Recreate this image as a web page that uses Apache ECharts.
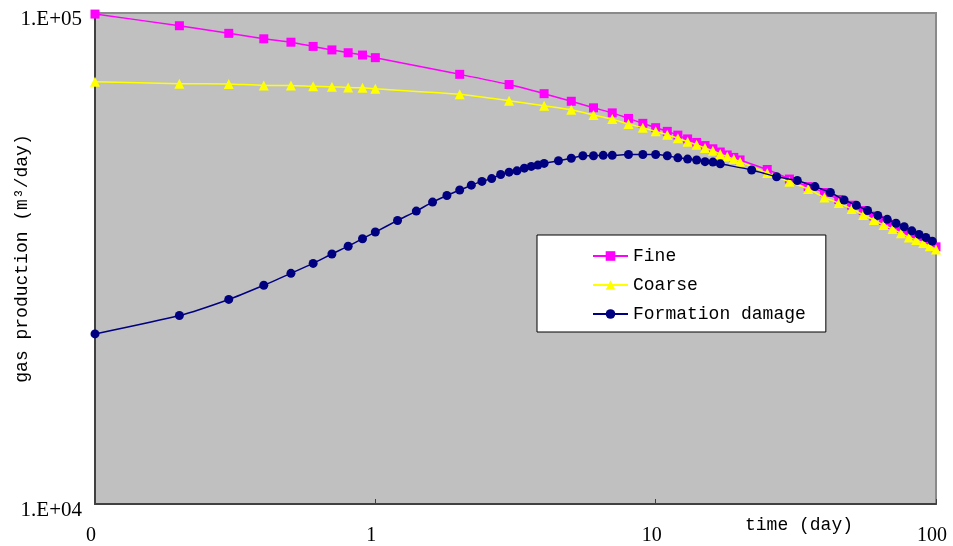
<!DOCTYPE html>
<html>
<head>
<meta charset="utf-8">
<script src="https://cdn.jsdelivr.net/npm/echarts@6/dist/echarts.min.js"></script>
<style>
  html, body { margin: 0; padding: 0; background: #ffffff; }
  #chart { width: 953px; height: 546px; }
</style>
</head>
<body>
<div id="chart"></div>
<script>
// Time samples (day) and gas production (m3/day) for each case
const fineTime = [0.1, 0.2, 0.3, 0.4, 0.5, 0.6, 0.7, 0.8, 0.9, 1,
  2, 3, 4, 5, 6, 7, 8, 9, 10,
  11, 12, 13, 14, 15, 16, 17, 18, 19, 20,
  25, 30, 35, 40, 45, 50, 55, 60, 65, 70, 75, 80, 85, 90, 95, 100];
const fineGas = [99500, 94200, 90900, 88600, 87200, 85500, 84100, 83000, 82100, 81100,
  75000, 71500, 68500, 66100, 64100, 62600, 61000, 59600, 58400,
  57400, 56400, 55400, 54500, 53700, 52900, 52100, 51400, 50800, 50200,
  48000, 45900, 44300, 43100, 41700, 40600, 39600, 38600, 37800, 37100, 36400, 35800, 35200, 34700, 34200, 33400];

const coarseTime = fineTime;
const coarseGas = [72400, 71800, 71700, 71200, 71200, 70900, 70800, 70500, 70400, 70100,
  68300, 66300, 64700, 63500, 62000, 60800, 59400, 58400, 57400,
  56500, 55600, 54700, 53900, 53100, 52400, 51600, 51000, 50400, 49800,
  47200, 45300, 43800, 42100, 41000, 39900, 38800, 37900, 37000, 36300, 35600, 34900, 34500, 34000, 33500, 33000];

const damageTime = [0.1, 0.2, 0.3, 0.4, 0.5, 0.6, 0.7, 0.8, 0.9, 1,
  1.2, 1.4, 1.6, 1.8, 2, 2.2, 2.4, 2.6, 2.8, 3, 3.2, 3.4, 3.6, 3.8, 4,
  4.5, 5, 5.5, 6, 6.5, 7, 8, 9, 10,
  11, 12, 13, 14, 15, 16, 17,
  22, 27, 32, 37, 42, 47, 52, 57, 62, 67, 72, 77, 82, 87, 92, 97];
const damageGas = [22200, 24200, 26100, 27900, 29500, 30900, 32300, 33500, 34700, 35800,
  37800, 39500, 41200, 42500, 43600, 44600, 45400, 46000, 46900, 47400, 47700, 48300, 48700, 49000, 49400,
  50000, 50600, 51200, 51200, 51300, 51300, 51500, 51500, 51500,
  51200, 50700, 50400, 50200, 49800, 49700, 49300,
  47900, 46400, 45600, 44300, 43100, 41600, 40600, 39600, 38700, 38000, 37300, 36700, 36000, 35400, 34900, 34300];

const seriesNames = ['Fine', 'Coarse', 'Formation damage'];

// Axis tick values and their printed labels
const xTicks = [0.1, 1, 10, 100];
const xTickLabels = ['0', '1', '10', '100'];
const yTicks = [10000, 100000];
const yTickLabels = ['1.E+04', '1.E+05'];

function pair(xs, ys) {
  return xs.map((x, i) => [x, ys[i]]);
}
function labelFor(ticks, labels, v) {
  for (let i = 0; i < ticks.length; i++) {
    if (Math.abs(Math.log10(v) - Math.log10(ticks[i])) < 1e-6) return labels[i];
  }
  return '';
}

const monoFont = '"Liberation Mono", "DejaVu Sans Mono", monospace';
const serifFont = '"Liberation Serif", "DejaVu Serif", serif';

const chart = echarts.init(document.getElementById('chart'), null, { renderer: 'canvas' });

chart.setOption({
  animation: false,
  backgroundColor: '#ffffff',
  grid: {
    left: 95, top: 13, right: 17, bottom: 42,
    containLabel: false,
    outerBoundsMode: 'none',
    show: true,
    backgroundColor: '#C0C0C0',
    borderColor: '#8a8a8a',
    borderWidth: 2
  },
  legend: {
    orient: 'vertical',
    left: 537,
    top: 235,
    backgroundColor: '#ffffff',
    borderColor: '#000000',
    borderWidth: 1,
    borderRadius: 0,
    padding: [12, 20, 9, 55],
    itemGap: 11,
    itemWidth: 35,
    itemHeight: 12,
    textStyle: { fontFamily: monoFont, fontSize: 18, color: '#000000' },
    data: seriesNames
  },
  xAxis: {
    type: 'log',
    logBase: 10,
    min: 0.1,
    max: 100,
    name: 'time (day)',
    nameLocation: 'end',
    nameGap: -191,
    nameMoveOverlap: false,
    nameTextStyle: {
      fontFamily: monoFont, fontSize: 18, color: '#000000',
      align: 'left', verticalAlign: 'top', padding: [12, 0, 0, 0]
    },
    axisLine: { show: true, lineStyle: { color: '#404040', width: 2 } },
    axisTick: { show: true, inside: true, length: 5, lineStyle: { color: '#404040', width: 1 } },
    minorTick: { show: false },
    splitLine: { show: false },
    axisLabel: {
      fontFamily: serifFont, fontSize: 20, color: '#000000',
      margin: 22,
      padding: [0, 8, 0, 0],
      showMinLabel: true, showMaxLabel: true,
      formatter: v => labelFor(xTicks, xTickLabels, v)
    }
  },
  yAxis: {
    type: 'log',
    logBase: 10,
    min: 10000,
    max: 100000,
    name: 'gas production (m³/day)',
    nameLocation: 'middle',
    nameGap: 64,
    nameRotate: 90,
    nameMoveOverlap: false,
    nameTextStyle: { fontFamily: monoFont, fontSize: 18, color: '#000000' },
    axisLine: { show: true, lineStyle: { color: '#404040', width: 2 } },
    axisTick: { show: false },
    splitLine: { show: false },
    axisLabel: {
      fontFamily: serifFont, fontSize: 21, color: '#000000',
      margin: 13,
      verticalAlign: 'top',
      lineHeight: 12,
      showMinLabel: true, showMaxLabel: true,
      formatter: v => labelFor(yTicks, yTickLabels, v)
    }
  },
  series: [
    {
      name: seriesNames[0],
      type: 'line',
      data: pair(fineTime, fineGas),
      symbol: 'rect',
      symbolSize: 9,
      smooth: 0.2,
      color: '#FF00FF',
      lineStyle: { color: '#FF00FF', width: 1.5 },
      itemStyle: { color: '#FF00FF' },
      z: 2
    },
    {
      name: seriesNames[1],
      type: 'line',
      data: pair(coarseTime, coarseGas),
      symbol: 'triangle',
      symbolSize: 10,
      smooth: 0.2,
      color: '#FFFF00',
      lineStyle: { color: '#FFFF00', width: 1.5 },
      itemStyle: { color: '#FFFF00' },
      z: 3
    },
    {
      name: seriesNames[2],
      type: 'line',
      data: pair(damageTime, damageGas),
      symbol: 'circle',
      symbolSize: 9,
      smooth: 0.2,
      color: '#000080',
      lineStyle: { color: '#000080', width: 1.5 },
      itemStyle: { color: '#000080' },
      z: 4
    }
  ]
});
</script>
</body>
</html>
